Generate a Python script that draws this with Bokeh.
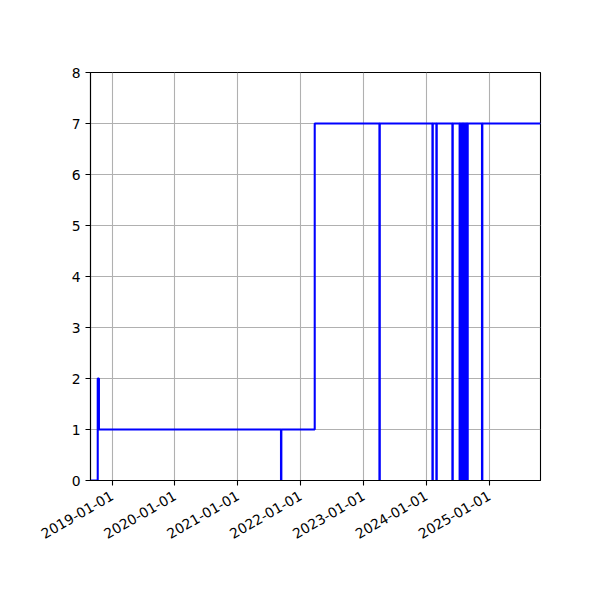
import math
import pandas as pd
from bokeh.plotting import figure
from bokeh.models import Range1d, FixedTicker, DatetimeTickFormatter
from bokeh.embed import file_html
from bokeh.resources import INLINE

# step series
dates = ["2018-08-28", "2018-10-09", "2018-10-16", "2021-09-08", "2021-09-10",
         "2022-03-23", "2023-04-03", "2023-04-05", "2024-02-05", "2024-02-07",
         "2024-02-28", "2024-03-01", "2024-05-31", "2024-06-02", "2024-07-12",
         "2024-07-14", "2024-07-19", "2024-07-21", "2024-07-27", "2024-07-29",
         "2024-08-03", "2024-08-05", "2024-08-11", "2024-08-13", "2024-08-18",
         "2024-08-20", "2024-08-26", "2024-08-28", "2024-11-19", "2024-11-21",
         "2025-10-25"]
values = [0, 2, 1, 0, 1,
          7, 0, 7, 0, 7,
          0, 7, 0, 7, 0,
          7, 0, 7, 0, 7,
          0, 7, 0, 7, 0,
          7, 0, 7, 0, 7,
          7]

tick_labels = ["2019-01-01", "2020-01-01", "2021-01-01", "2022-01-01",
               "2023-01-01", "2024-01-01", "2025-01-01"]
y_ticks = [0, 1, 2, 3, 4, 5, 6, 7, 8]

x = pd.to_datetime(dates)
xticks = [pd.Timestamp(t).value / 1e6 for t in tick_labels]

p = figure(width=592, height=592, x_axis_type="datetime",
           x_range=Range1d(x[0], x[-1]), y_range=Range1d(0, 8),
           output_backend="svg", toolbar_location=None,
           min_border_left=90, min_border_right=52,
           min_border_top=72, min_border_bottom=112)
p.step(x, values, mode="after", line_color="blue", line_width=2.08)

p.xaxis.ticker = FixedTicker(ticks=xticks)
p.xaxis.formatter = DatetimeTickFormatter(days="%Y-%m-%d", months="%Y-%m-%d", years="%Y-%m-%d")
p.xaxis.major_label_orientation = math.pi / 6
p.yaxis.ticker = FixedTicker(ticks=y_ticks)

for ax in [p.xaxis, p.yaxis]:
    ax.major_label_text_font = "DejaVu Sans"
    ax.major_label_text_font_size = "13.9px"
    ax.major_label_text_color = "black"
    ax.axis_line_color = "black"
    ax.axis_line_width = 1.1
    ax.major_tick_line_color = "black"
    ax.major_tick_line_width = 1.1
    ax.major_tick_out = 5
    ax.major_tick_in = 0
    ax.minor_tick_line_color = None
    ax.major_label_standoff = 5

p.xaxis.major_label_standoff = 9

p.grid.grid_line_color = "#b0b0b0"
p.grid.grid_line_width = 1.1
p.outline_line_color = "black"
p.outline_line_alpha = 1
p.outline_line_width = 1.1
p.background_fill_color = "white"
p.border_fill_color = "white"

open("out.html", "w").write(file_html(p, INLINE))
